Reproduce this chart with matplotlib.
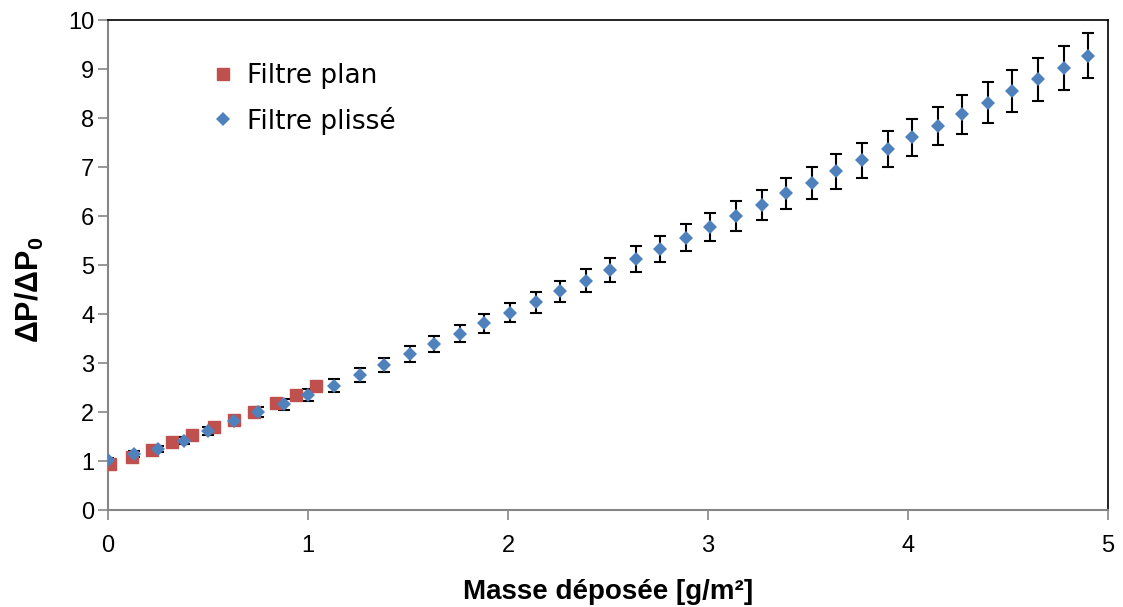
import matplotlib.pyplot as plt

plt.rcParams["mathtext.fontset"] = "custom"
plt.rcParams["mathtext.bf"] = "Liberation Sans:bold"
plt.rcParams["mathtext.rm"] = "Liberation Sans"

# Filtre plan (red squares)
x_plan = [0.01, 0.12, 0.22, 0.32, 0.42, 0.53, 0.63, 0.73, 0.84, 0.94, 1.04]
y_plan = [0.93, 1.09, 1.22, 1.39, 1.53, 1.69, 1.84, 2.01, 2.18, 2.35, 2.53]

# Filtre plissé (blue diamonds, with error bars)
x_plisse = [0.00, 0.13, 0.25, 0.38, 0.50, 0.63, 0.75, 0.88, 1.00, 1.13,
            1.26, 1.38, 1.51, 1.63, 1.76, 1.88, 2.01, 2.14, 2.26, 2.39,
            2.51, 2.64, 2.76, 2.89, 3.01, 3.14, 3.27, 3.39, 3.52, 3.64,
            3.77, 3.90, 4.02, 4.15, 4.27, 4.40, 4.52, 4.65, 4.78, 4.90]
y_plisse = [1.02, 1.14, 1.24, 1.41, 1.61, 1.82, 2.00, 2.16, 2.34, 2.54,
            2.75, 2.96, 3.18, 3.39, 3.60, 3.81, 4.03, 4.24, 4.46, 4.68,
            4.90, 5.12, 5.33, 5.56, 5.78, 6.00, 6.23, 6.46, 6.68, 6.91,
            7.14, 7.37, 7.61, 7.84, 8.08, 8.31, 8.55, 8.79, 9.02, 9.27]
err_plisse = [0.05, 0.06, 0.06, 0.07, 0.08, 0.09, 0.10, 0.11, 0.12, 0.13,
              0.14, 0.15, 0.16, 0.17, 0.18, 0.19, 0.20, 0.21, 0.22, 0.23,
              0.25, 0.26, 0.27, 0.28, 0.29, 0.30, 0.31, 0.32, 0.33, 0.35,
              0.36, 0.37, 0.38, 0.39, 0.40, 0.42, 0.43, 0.44, 0.45, 0.46]

red = "#C0504D"
blue = "#4F81BD"

fig = plt.figure(figsize=(11.23, 6.07), dpi=100)
ax = fig.add_axes([0.0962, 0.1598, 0.8904, 0.8072])

ax.errorbar(x_plisse, y_plisse, yerr=err_plisse, fmt="none", ecolor="black",
            elinewidth=1.5, capsize=4, capthick=1.5, zorder=2)
ax.plot(x_plan, y_plan, "s", color=red, markersize=9, zorder=3,
        label="Filtre plan")
ax.plot(x_plisse, y_plisse, "D", color=blue, markersize=7.5, markeredgewidth=0,
        zorder=4, label="Filtre plissé")

ax.set_xlim(0, 5)
ax.set_ylim(0, 10)
ax.set_xticks(range(0, 6))
ax.set_yticks(range(0, 11))

for side in ["left", "bottom"]:
    ax.spines[side].set_color("#868686")
    ax.spines[side].set_linewidth(1.5)
for side in ["top", "right"]:
    ax.spines[side].set_color("black")
    ax.spines[side].set_linewidth(1.2)

ax.tick_params(axis="both", direction="out", length=7, width=1.2,
               color="#868686", labelsize=17)
ax.tick_params(axis="y", pad=3)
ax.tick_params(axis="x", pad=11)
for lab in ax.get_xticklabels() + ax.get_yticklabels():
    lab.set_fontfamily("Liberation Sans")

ax.set_xlabel("Masse déposée [g/m²]", fontsize=20, fontweight="bold",
              family="Liberation Sans", va="center")
ax.xaxis.set_label_coords(0.5, -0.168)
ax.set_ylabel(r"ΔP/ΔP$_\mathbf{0}$", fontsize=22, fontweight="bold",
              family="Liberation Sans", va="center")
ax.yaxis.set_label_coords(-0.078, 0.45)

handles, labels = ax.get_legend_handles_labels()
leg = ax.legend(handles, labels, loc="upper left", bbox_to_anchor=(0.078, 0.96),
                frameon=False, prop={"family": "DejaVu Sans", "size": 19},
                handletextpad=0.4, labelspacing=0.65, markerscale=0.95,
                handlelength=1.0)

fig.savefig("out.png", dpi=100)
